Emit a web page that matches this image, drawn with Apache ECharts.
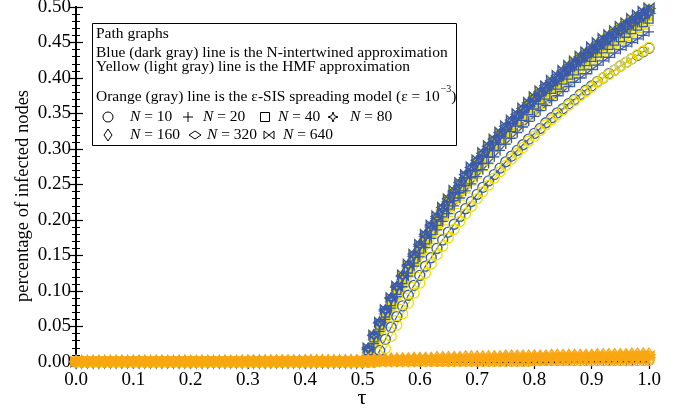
<!DOCTYPE html>
<html>
<head>
<meta charset="utf-8">
<script src="https://cdn.jsdelivr.net/npm/echarts@6/dist/echarts.min.js"></script>
<style>html,body{margin:0;padding:0;background:#fff}#c{width:690px;height:411px}</style>
</head>
<body>
<div id="c"></div>
<script>
// ---------- DATA ----------
const tau = [0.00,0.01,0.02,0.03,0.04,0.05,0.06,0.07,0.08,0.09,
0.10,0.11,0.12,0.13,0.14,0.15,0.16,0.17,0.18,0.19,
0.20,0.21,0.22,0.23,0.24,0.25,0.26,0.27,0.28,0.29,
0.30,0.31,0.32,0.33,0.34,0.35,0.36,0.37,0.38,0.39,
0.40,0.41,0.42,0.43,0.44,0.45,0.46,0.47,0.48,0.49,
0.50,0.51,0.52,0.53,0.54,0.55,0.56,0.57,0.58,0.59,
0.60,0.61,0.62,0.63,0.64,0.65,0.66,0.67,0.68,0.69,
0.70,0.71,0.72,0.73,0.74,0.75,0.76,0.77,0.78,0.79,
0.80,0.81,0.82,0.83,0.84,0.85,0.86,0.87,0.88,0.89,
0.90,0.91,0.92,0.93,0.94,0.95,0.96,0.97,0.98,0.99,1.00];

const sizes = ['10','20','40','80','160','320','640'];
const xTickLabels = ['0.0','0.1','0.2','0.3','0.4','0.5','0.6','0.7','0.8','0.9','1.0'];
const yTickLabels = ['0.00','0.05','0.10','0.15','0.20','0.25','0.30','0.35','0.40','0.45','0.50'];

// tau = 0.00 .. 0.49 : blue and yellow curves are at zero
const zerosBelowHalf = [0,0,0,0,0,0,0,0,0,0, 0,0,0,0,0,0,0,0,0,0, 0,0,0,0,0,0,0,0,0,0, 0,0,0,0,0,0,0,0,0,0, 0,0,0,0,0,0,0,0,0,0];

// tau = 0.50 .. 1.00 (N-intertwined, blue)
const nimfa10 = [0,0,0,.016,.032,.049,.064,.079,.094,.108,
.122,.135,.147,.160,.172,.183,.194,.205,.216,.226,
.236,.246,.255,.264,.273,.282,.290,.298,.306,.314,
.322,.329,.337,.344,.351,.357,.364,.370,.377,.383,
.389,.395,.400,.406,.411,.417,.422,.427,.432,.437,.442];
const nimfa20 = [0,.008,.026,.043,.060,.076,.092,.106,.121,.135,
.148,.161,.174,.186,.198,.209,.220,.231,.241,.251,
.261,.271,.280,.289,.298,.307,.315,.323,.331,.339,
.346,.354,.361,.368,.375,.381,.388,.394,.400,.406,
.412,.418,.424,.429,.435,.440,.445,.450,.455,.460,.465];
const nimfa40 = [0,.016,.034,.052,.069,.085,.101,.116,.131,.145,
.159,.172,.185,.198,.210,.221,.233,.244,.254,.265,
.275,.285,.294,.303,.312,.321,.330,.338,.346,.354,
.362,.369,.376,.384,.390,.397,.404,.410,.417,.423,
.429,.435,.441,.446,.452,.457,.463,.468,.473,.478,.483];
const nimfa80 = [0,.018,.037,.055,.072,.089,.105,.120,.135,.149,
.163,.177,.190,.202,.214,.226,.238,.249,.260,.270,
.280,.290,.300,.309,.318,.327,.336,.344,.352,.360,
.368,.376,.383,.390,.397,.404,.411,.418,.424,.430,
.436,.442,.448,.454,.460,.465,.471,.476,.481,.486,.491];
const nimfa160 = [0,.019,.038,.056,.073,.090,.106,.122,.137,.151,
.165,.179,.192,.204,.217,.229,.240,.251,.262,.273,
.283,.293,.303,.312,.321,.330,.339,.347,.356,.364,
.372,.379,.387,.394,.401,.408,.415,.421,.428,.434,
.440,.446,.452,.458,.464,.469,.475,.480,.485,.490,.495];
const nimfa320 = [0,.020,.038,.056,.074,.091,.107,.122,.137,.152,
.166,.180,.193,.205,.218,.230,.241,.253,.264,.274,
.284,.294,.304,.314,.323,.332,.341,.349,.357,.365,
.373,.381,.389,.396,.403,.410,.417,.423,.430,.436,
.442,.449,.455,.460,.466,.472,.477,.482,.488,.493,.498];
const nimfa640 = [0,.020,.038,.056,.074,.091,.107,.123,.138,.152,
.166,.180,.193,.206,.218,.230,.242,.253,.264,.275,
.285,.295,.305,.314,.324,.333,.341,.350,.358,.366,
.374,.382,.389,.397,.404,.411,.418,.424,.431,.437,
.444,.450,.456,.461,.467,.473,.478,.484,.489,.494,.499];

// tau = 0.50 .. 1.00 (HMF, yellow)
const hmf10 = [0,0,0,.002,.019,.036,.052,.068,.083,.097,
.111,.125,.138,.151,.163,.175,.187,.198,.209,.219,
.230,.240,.249,.259,.268,.277,.286,.294,.302,.311,
.318,.326,.334,.341,.348,.355,.362,.368,.375,.381,
.387,.394,.400,.405,.411,.417,.422,.427,.433,.438,.443];
const hmf20 = [0,0,.012,.030,.048,.065,.081,.097,.112,.126,
.140,.154,.167,.180,.193,.205,.216,.228,.238,.249,
.259,.270,.279,.289,.298,.307,.316,.324,.333,.341,
.349,.357,.364,.371,.379,.386,.392,.399,.406,.412,
.418,.424,.430,.436,.442,.448,.453,.458,.464,.469,.474];
const hmf40 = [0,.007,.026,.044,.061,.078,.094,.110,.125,.140,
.154,.167,.181,.193,.206,.218,.230,.241,.252,.262,
.273,.283,.293,.302,.311,.320,.329,.338,.346,.354,
.362,.370,.377,.385,.392,.399,.406,.412,.419,.425,
.432,.438,.444,.449,.455,.461,.466,.472,.477,.482,.487];
const hmf80 = [0,.013,.032,.050,.068,.085,.101,.116,.132,.146,
.160,.174,.187,.200,.212,.224,.236,.247,.258,.269,
.279,.289,.299,.309,.318,.327,.336,.344,.353,.361,
.369,.376,.384,.391,.398,.405,.412,.419,.425,.432,
.438,.444,.450,.456,.462,.467,.473,.478,.483,.489,.494];
const hmf160 = [0,.016,.035,.053,.071,.088,.104,.120,.135,.149,
.163,.177,.190,.203,.216,.228,.239,.251,.262,.272,
.283,.293,.302,.312,.321,.330,.339,.347,.356,.364,
.372,.380,.387,.394,.402,.409,.415,.422,.429,.435,
.441,.447,.453,.459,.465,.470,.476,.481,.487,.492,.497];
const hmf320 = [0,.018,.037,.055,.072,.089,.106,.121,.136,.151,
.165,.179,.192,.205,.217,.229,.241,.252,.263,.274,
.284,.294,.304,.313,.323,.332,.341,.349,.357,.365,
.373,.381,.389,.396,.403,.410,.417,.424,.430,.437,
.443,.449,.455,.461,.466,.472,.478,.483,.488,.493,.498];
const hmf640 = [0,.019,.038,.056,.073,.090,.106,.122,.137,.152,
.166,.180,.193,.206,.218,.230,.242,.253,.264,.275,
.285,.295,.305,.314,.324,.333,.341,.350,.358,.366,
.374,.382,.389,.397,.404,.411,.418,.425,.431,.437,
.444,.450,.456,.462,.467,.473,.478,.484,.489,.494,.499];

// tau = 0.00 .. 1.00 (epsilon-SIS, orange)
const sis10 = [.001,.001,.001,.001,.001,.001,.001,.001,.001,.001,
.001,.001,.001,.001,.001,.001,.001,.001,.001,.001,
.001,.001,.001,.001,.001,.001,.001,.001,.001,.001,
.001,.001,.001,.001,.001,.001,.001,.001,.001,.001,
.001,.001,.001,.001,.001,.001,.001,.001,.001,.001,
.001,.001,.001,.001,.001,.001,.001,.001,.001,.001,
.001,.001,.001,.001,.001,.001,.001,.001,.001,.001,
.001,.001,.001,.001,.001,.001,.001,.001,.001,.001,
.002,.002,.002,.002,.002,.002,.002,.002,.002,.002,
.002,.002,.002,.002,.002,.002,.002,.002,.002,.002,.002];
const sis20 = [.001,.001,.001,.001,.001,.001,.001,.001,.001,.001,
.001,.001,.001,.001,.001,.001,.001,.001,.001,.001,
.001,.001,.001,.001,.001,.001,.001,.001,.001,.001,
.001,.001,.001,.001,.001,.001,.001,.001,.001,.001,
.001,.001,.001,.001,.001,.001,.001,.001,.001,.001,
.001,.001,.001,.001,.001,.001,.001,.001,.001,.001,
.002,.002,.002,.002,.002,.002,.002,.002,.002,.002,
.002,.002,.002,.002,.002,.002,.002,.002,.002,.002,
.002,.002,.002,.002,.002,.002,.002,.002,.002,.002,
.003,.003,.003,.003,.003,.003,.003,.003,.003,.003,.003];
const sis40 = [.001,.001,.001,.001,.001,.001,.001,.001,.001,.001,
.001,.001,.001,.001,.001,.001,.001,.001,.001,.001,
.001,.001,.001,.001,.001,.001,.001,.001,.001,.001,
.001,.001,.001,.001,.001,.001,.001,.001,.001,.001,
.001,.001,.001,.001,.001,.001,.001,.001,.001,.001,
.002,.002,.002,.002,.002,.002,.002,.002,.002,.002,
.002,.002,.002,.002,.002,.002,.002,.002,.002,.002,
.003,.003,.003,.003,.003,.003,.003,.003,.003,.003,
.003,.003,.003,.003,.003,.004,.004,.004,.004,.004,
.004,.004,.004,.004,.004,.004,.004,.004,.004,.004,.004];
const sis80 = [.001,.001,.001,.001,.001,.001,.001,.001,.001,.001,
.001,.001,.001,.001,.001,.001,.001,.001,.001,.001,
.001,.001,.001,.001,.001,.001,.001,.001,.001,.001,
.001,.001,.001,.001,.001,.001,.001,.001,.001,.001,
.002,.002,.002,.002,.002,.002,.002,.002,.002,.002,
.002,.002,.002,.002,.002,.002,.002,.002,.002,.002,
.003,.003,.003,.003,.003,.003,.003,.003,.003,.003,
.004,.004,.004,.004,.004,.004,.004,.004,.004,.004,
.005,.005,.005,.005,.005,.005,.005,.005,.005,.005,
.006,.006,.006,.006,.006,.006,.006,.006,.006,.006,.006];
const sis160 = [.001,.001,.001,.001,.001,.001,.001,.001,.001,.001,
.001,.001,.001,.001,.001,.001,.001,.001,.001,.001,
.001,.001,.001,.001,.001,.001,.001,.001,.001,.001,
.002,.002,.002,.002,.002,.002,.002,.002,.002,.002,
.002,.002,.002,.002,.002,.002,.002,.002,.002,.002,
.003,.003,.004,.004,.004,.005,.005,.005,.005,.006,
.006,.006,.006,.007,.007,.007,.007,.007,.008,.008,
.008,.008,.008,.008,.008,.009,.009,.009,.009,.009,
.009,.009,.009,.010,.010,.010,.010,.010,.010,.010,
.010,.011,.011,.011,.011,.011,.011,.012,.012,.012,.012];
const sis320 = [.001,.001,.001,.001,.001,.001,.001,.001,.001,.001,
.001,.001,.001,.001,.001,.001,.001,.001,.001,.001,
.001,.001,.001,.001,.001,.001,.001,.001,.001,.001,
.002,.002,.002,.002,.002,.002,.002,.002,.002,.002,
.002,.002,.002,.002,.002,.002,.002,.002,.002,.002,
.003,.003,.003,.003,.003,.004,.004,.004,.004,.004,
.004,.004,.004,.005,.005,.005,.005,.005,.005,.005,
.006,.006,.006,.006,.006,.007,.007,.007,.007,.007,
.007,.007,.007,.008,.008,.008,.008,.008,.008,.008,
.008,.008,.008,.009,.009,.009,.009,.009,.010,.010,.010];
const sis640 = [.001,.001,.001,.001,.001,.001,.001,.001,.001,.001,
.001,.001,.001,.001,.001,.001,.001,.001,.001,.001,
.001,.001,.001,.001,.001,.001,.001,.001,.001,.001,
.002,.002,.002,.002,.002,.002,.002,.002,.002,.002,
.002,.002,.002,.002,.002,.002,.002,.002,.002,.002,
.003,.003,.003,.003,.003,.003,.004,.004,.004,.004,
.004,.004,.004,.004,.004,.005,.005,.005,.005,.005,
.005,.005,.005,.005,.006,.006,.006,.006,.006,.006,
.006,.006,.006,.007,.007,.007,.007,.007,.007,.007,
.008,.008,.008,.008,.008,.008,.009,.009,.009,.009,.009];

// ---------- STYLE ----------
const FONT = '"Liberation Serif", "DejaVu Serif", serif';
const BLUE = '#3b5aab', YELLOW = '#efe000', ORANGE = '#f8a712';
const MARKERS = {
  '10':  {symbol: 'circle', size: 10},
  '20':  {symbol: 'path://M5,0L5,10M0,5L10,5', size: 10},
  '40':  {symbol: 'rect', size: 8},
  '80':  {symbol: 'path://M5,0L6.2,3.8L10,5L6.2,6.2L5,10L3.8,6.2L0,5L3.8,3.8Z', size: 11},
  '160': {symbol: 'diamond', size: [8, 11]},
  '320': {symbol: 'diamond', size: [12, 7]},
  '640': {symbol: 'path://M0,0L10,10L10,0L0,10Z', size: [10, 9]}
};
const blueData = {'10': nimfa10, '20': nimfa20, '40': nimfa40, '80': nimfa80, '160': nimfa160, '320': nimfa320, '640': nimfa640};
const yellowData = {'10': hmf10, '20': hmf20, '40': hmf40, '80': hmf80, '160': hmf160, '320': hmf320, '640': hmf640};
const orangeData = {'10': sis10, '20': sis20, '40': sis40, '80': sis80, '160': sis160, '320': sis320, '640': sis640};

function pairs(vals) { return tau.map((t, i) => [t, vals[i]]); }
function mk(name, vals, color, n, filled) {
  const m = MARKERS[n];
  return {
    name: name, type: 'line', data: pairs(vals),
    symbol: m.symbol, symbolSize: m.size, showAllSymbol: true, clip: false,
    lineStyle: {color: color, width: 1.2},
    itemStyle: {color: filled ? color : 'rgba(0,0,0,0)', borderColor: color, borderWidth: 1.3},
    emphasis: {disabled: true}, silent: true, animation: false
  };
}
const series = [];
sizes.filter(n => n !== '10').forEach(n => series.push(mk('HMF N=' + n, zerosBelowHalf.concat(yellowData[n]), YELLOW, n, n !== '20')));
sizes.filter(n => n !== '10').forEach(n => series.push(mk('NIMFA N=' + n, zerosBelowHalf.concat(blueData[n]), BLUE, n, false)));
series.push(mk('NIMFA N=10', zerosBelowHalf.concat(blueData['10']), BLUE, '10', false));
series.push(mk('HMF N=10', zerosBelowHalf.concat(yellowData['10']), YELLOW, '10', false));
sizes.forEach(n => series.push(mk('SIS N=' + n, orangeData[n], ORANGE, n, false)));

const axisCommon = {
  type: 'value', min: 0, splitLine: {show: false},
  axisLine: {show: true, lineStyle: {color: '#000', width: 2}},
  axisTick: {show: true, inside: true, length: 7, lineStyle: {color: '#000', width: 1.2}},
  minorTick: {show: true, length: 4, lineStyle: {color: '#000', width: 1}},
  minorSplitLine: {show: false}
};
const labelStyle = {color: '#000', fontFamily: FONT, fontSize: 19};

// legend box text
const LF = '15.5px ' + FONT;
const T = (x, y, text) => ({type: 'text', x: x, y: y, z: 101,
  style: {text: text, fill: '#000', font: LF, verticalAlign: 'middle'}});
const NT = (x, y, num) => ({type: 'text', x: x, y: y, z: 101,
  style: {text: '{i|N} = ' + num, fill: '#000', font: LF, verticalAlign: 'middle',
    rich: {i: {fontStyle: 'italic', fontFamily: FONT, fontSize: 15.5, fill: '#000'}}}});
const S = {fill: 'none', stroke: '#000', lineWidth: 1};
const r1 = 117, r2 = 135;
const graphics = [
  {type: 'rect', z: 100, shape: {x: 92.5, y: 23.5, width: 364, height: 122}, style: {fill: '#fff', stroke: '#000', lineWidth: 1}},
  T(96, 34, 'Path graphs'),
  T(96, 53, 'Blue (dark gray) line is the N-intertwined approximation'),
  T(96, 67, 'Yellow (light gray) line is the HMF approximation'),
  {type: 'text', x: 96, y: 97, z: 101, style: {text: 'Orange (gray) line is the ε-SIS spreading model (ε = 10{s|−3})',
    fill: '#000', font: LF, verticalAlign: 'middle',
    rich: {s: {fontSize: 10, fontFamily: FONT, fill: '#000', padding: [0, 0, 15, 1]}}}},
  // row 1 symbols
  {type: 'circle', z: 101, shape: {cx: 108, cy: r1, r: 5}, style: S},
  {type: 'line', z: 101, shape: {x1: 183, y1: r1, x2: 193, y2: r1}, style: S},
  {type: 'line', z: 101, shape: {x1: 188, y1: r1 - 5, x2: 188, y2: r1 + 5}, style: S},
  {type: 'rect', z: 101, shape: {x: 260.5, y: r1 - 4.5, width: 9, height: 9}, style: S},
  {type: 'polygon', z: 101, shape: {points: [[333, r1 - 5], [334.3, r1 - 1.3], [338, r1], [334.3, r1 + 1.3], [333, r1 + 5], [331.7, r1 + 1.3], [328, r1], [331.7, r1 - 1.3]]}, style: S},
  NT(130, r1, '10'), NT(203, r1, '20'), NT(278, r1, '40'), NT(350, r1, '80'),
  // row 2 symbols
  {type: 'polygon', z: 101, shape: {points: [[108, r2 - 6], [112, r2], [108, r2 + 6], [104, r2]]}, style: S},
  {type: 'polygon', z: 101, shape: {points: [[189, r2], [195, r2 - 4], [201, r2], [195, r2 + 4]]}, style: S},
  {type: 'polygon', z: 101, shape: {points: [[264, r2 - 4], [274, r2 + 4], [274, r2 - 4], [264, r2 + 4]]}, style: S},
  NT(130, r2, '160'), NT(207, r2, '320'), NT(283, r2, '640'),
  // axis titles
  {type: 'text', x: 23, y: 196, rotation: Math.PI / 2, z: 50,
    style: {text: 'percentage of infected nodes', fill: '#000', font: '18.5px ' + FONT, align: 'center', verticalAlign: 'middle'}},
  {type: 'text', x: 362, y: 398, z: 50,
    style: {text: 'τ', fill: '#000', font: '22px ' + FONT, align: 'center', verticalAlign: 'middle'}}
];

const chart = echarts.init(document.getElementById('c'), null, {renderer: 'canvas'});
chart.setOption({
  animation: false,
  backgroundColor: '#fff',
  grid: {left: 76, right: 41, top: 7, bottom: 49, outerBoundsMode: 'none'},
  xAxis: [
    Object.assign({}, axisCommon, {max: 1, interval: 0.1, position: 'bottom',
      minorTick: Object.assign({}, axisCommon.minorTick, {splitNumber: 10}),
      axisLabel: Object.assign({}, labelStyle, {margin: 9, formatter: v => xTickLabels[Math.round(v * 10)]})}),
    Object.assign({}, axisCommon, {max: 1, interval: 0.1, position: 'top',
      minorTick: Object.assign({}, axisCommon.minorTick, {splitNumber: 10}),
      axisLabel: {show: false}})
  ],
  yAxis: [
    Object.assign({}, axisCommon, {max: 0.5, interval: 0.05, position: 'left',
      minorTick: Object.assign({}, axisCommon.minorTick, {splitNumber: 5}),
      axisLabel: Object.assign({}, labelStyle, {margin: 5, formatter: v => yTickLabels[Math.round(v * 20)]})}),
    Object.assign({}, axisCommon, {max: 0.5, interval: 0.05, position: 'right',
      minorTick: Object.assign({}, axisCommon.minorTick, {splitNumber: 5}),
      axisLabel: {show: false}})
  ],
  series: series,
  graphic: graphics
});
</script>
</body>
</html>
